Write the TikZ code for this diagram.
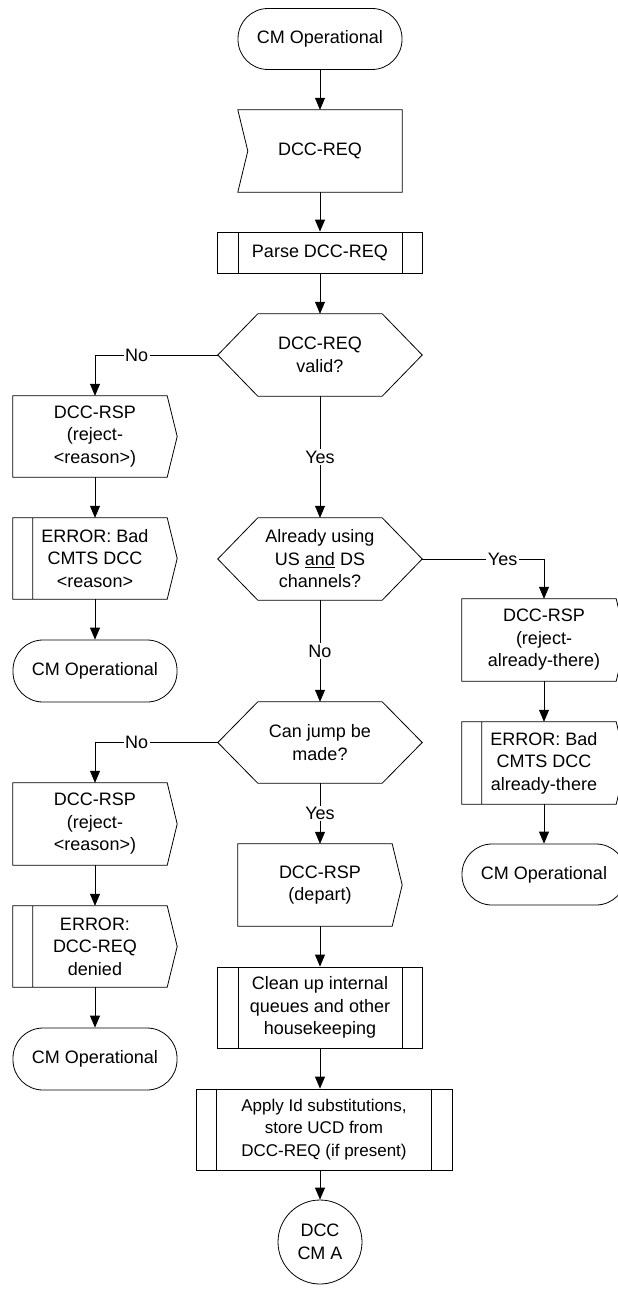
\documentclass[tikz,border=0pt]{standalone}
\usepackage{fontspec}
\setmainfont{Liberation Sans}
\usetikzlibrary{arrows.meta}
\begin{document}
\begin{tikzpicture}[x=1pt,y=-1pt,
  font=\fontsize{18}{22.5}\selectfont,
  lw/.style={line width=0.8pt, draw=black},
  blk/.style={inner sep=0pt, align=center, minimum width=164pt, minimum height=82pt},
  term/.style={blk, lw, rounded corners=30pt, minimum height=61pt},
  proc/.style={blk, lw, minimum width=205pt,
    append after command={\pgfextra{\draw[lw]
      ([xshift=21pt]\tikzlastnode.north west) -- ([xshift=21pt]\tikzlastnode.south west)
      ([xshift=-21pt]\tikzlastnode.north east) -- ([xshift=-21pt]\tikzlastnode.south east);}}},
  sendbox/.style={blk,
    append after command={\pgfextra{\draw[lw]
      (\tikzlastnode.north west) -- ([xshift=-10pt]\tikzlastnode.north east) -- (\tikzlastnode.east)
      -- ([xshift=-10pt]\tikzlastnode.south east) -- (\tikzlastnode.south west) -- cycle;}}},
  errbox/.style={blk,
    append after command={\pgfextra{\draw[lw]
      (\tikzlastnode.north west) -- ([xshift=-10pt]\tikzlastnode.north east) -- (\tikzlastnode.east)
      -- ([xshift=-10pt]\tikzlastnode.south east) -- (\tikzlastnode.south west) -- cycle
      ([xshift=20pt]\tikzlastnode.north west) -- ([xshift=20pt]\tikzlastnode.south west);}}},
  recvbox/.style={blk,
    append after command={\pgfextra{\draw[lw]
      (\tikzlastnode.north west) -- (\tikzlastnode.north east) -- (\tikzlastnode.south east)
      -- (\tikzlastnode.south west) -- ([xshift=10pt]\tikzlastnode.west) -- cycle;}}},
  hexbox/.style={blk, minimum width=204pt,
    append after command={\pgfextra{\draw[lw]
      (\tikzlastnode.west) -- ([xshift=40pt]\tikzlastnode.north west) -- ([xshift=-40pt]\tikzlastnode.north east)
      -- (\tikzlastnode.east) -- ([xshift=-40pt]\tikzlastnode.south east) -- ([xshift=40pt]\tikzlastnode.south west) -- cycle;}}},
  conn/.style={lw, circle, inner sep=0pt, minimum size=84pt, align=center},
  arr/.style={lw, -{Triangle[length=12pt,width=10pt]}},
  lbl/.style={fill=white, inner sep=1.5pt}
]
\useasboundingbox (0,0) rectangle (618,1290);

% main column
\node[term] (start) at (320,39) {CM Operational};
\node[recvbox] (req) at (320,151) {DCC-REQ};
\node[proc, minimum height=41pt] (parse) at (320,252.5) {Parse DCC-REQ};
\node[hexbox] (d1) at (320,355) {DCC-REQ\\valid?};
\node[hexbox] (d2) at (320,559) {Already using\\US \underline{and} DS\\channels?};
\node[hexbox, minimum height=81pt] (d3) at (320,742.5) {Can jump be\\made?};
\node[sendbox] (dep) at (320,885) {DCC-RSP\\(depart)};
\node[proc, minimum height=81pt] (clean) at (320,1007.5) {Clean up internal\\queues and other\\housekeeping};
\node[proc, minimum height=81pt, minimum width=256pt] (apply) at (324,1129.5) {};
\node[font=\fontsize{17}{22.5}\selectfont, align=center] (applyt) at (apply.center) {Apply Id substitutions,\\store UCD from\\DCC-REQ (if present)};
\node[conn] (cma) at (320,1242) {DCC\\CM A};

% left column, first branch
\node[sendbox, minimum height=81pt] (l1rsp) at (95,436.5) {DCC-RSP\\(reject-\\<reason>)};
\node[errbox, minimum height=81pt] (l1err) at (95,558.5) {ERROR: Bad\\CMTS DCC\\<reason>};
\node[term, minimum height=62pt] (l1end) at (95,671) {CM Operational};

% right column
\node[sendbox] (r1rsp) at (544,640) {DCC-RSP\\(reject-\\already-there)};
\node[errbox] (r1err) at (544,763) {ERROR: Bad\\CMTS DCC\\already-there};
\node[term] (r1end) at (544,874.5) {CM Operational};

% left column, second branch
\node[sendbox] (l2rsp) at (95,824) {DCC-RSP\\(reject-\\<reason>)};
\node[errbox, minimum height=81pt] (l2err) at (95,946.5) {ERROR:\\DCC-REQ\\denied};
\node[term, minimum height=62pt] (l2end) at (95,1059) {CM Operational};

% connectors
\draw[arr] (start.south) -- (req.north);
\draw[arr] (req.south) -- (parse.north);
\draw[arr] (parse.south) -- (d1.north);
\draw[arr] (d1.west) -| node[lbl, pos=0.33] {No} (l1rsp.north);
\draw[arr] (d1.south) -- node[lbl] {Yes} (d2.north);
\draw[arr] (d2.east) -| node[lbl, pos=0.33] {Yes} (r1rsp.north);
\draw[arr] (d2.south) -- node[lbl] {No} (d3.north);
\draw[arr] (d3.west) -| node[lbl, pos=0.33] {No} (l2rsp.north);
\draw[arr] (d3.south) -- node[lbl] {Yes} (dep.north);
\draw[arr] (dep.south) -- (clean.north);
\draw[arr] (clean.south) -- ([xshift=-4pt]apply.north);
\draw[arr] ([xshift=-4pt]apply.south) -- (cma.north);

\draw[arr] (l1rsp.south) -- (l1err.north);
\draw[arr] (l1err.south) -- (l1end.north);
\draw[arr] (r1rsp.south) -- (r1err.north);
\draw[arr] (r1err.south) -- (r1end.north);
\draw[arr] (l2rsp.south) -- (l2err.north);
\draw[arr] (l2err.south) -- (l2end.north);
\end{tikzpicture}
\end{document}
